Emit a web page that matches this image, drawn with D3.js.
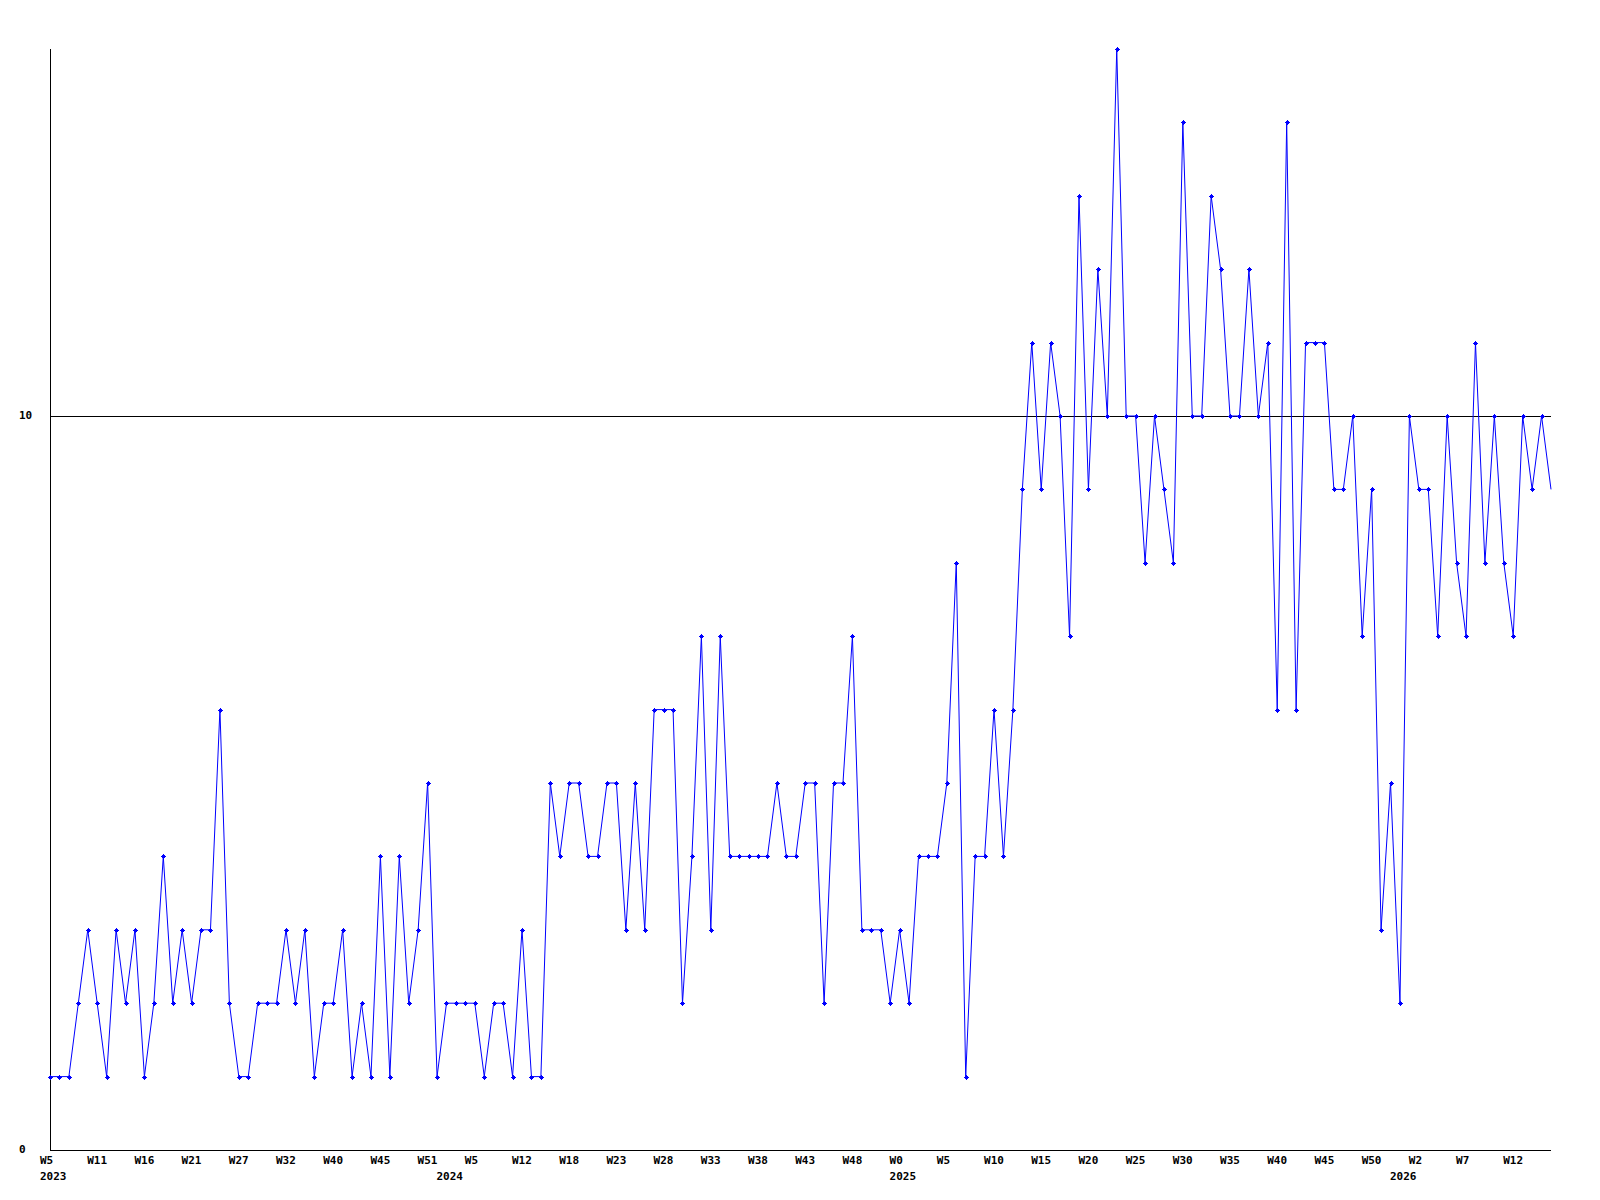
<!DOCTYPE html>
<html>
<head>
<meta charset="utf-8">
<script src="https://cdn.jsdelivr.net/npm/d3@7"></script>
<style>
  html, body { margin: 0; padding: 0; background: #ffffff; }
  svg { display: block; }
  text { font-family: "DejaVu Sans Mono", "Liberation Mono", monospace; font-size: 11px; font-weight: bold; fill: #000; }
</style>
</head>
<body>
<svg id="chart" width="1600" height="1200"></svg>
<script>
// Weekly values (one per week)
const values = [
  1,1,1,2,3,2,1,3,2,3,1,2,4,2,3,2,3,3,6,2,1,1,
  2,2,2,3,2,3,1,2,2,3,1,2,1,4,1,4,2,3,5,1,2,
  2,2,2,1,2,2,1,3,1,1,5,4,5,5,4,4,5,5,3,5,3,
  6,6,6,2,4,7,3,7,4,4,4,4,4,5,4,4,5,5,2,5,5,
  7,3,3,3,2,3,2,4,4,4,5,8,1,4,4,6,4,6,9,11,
  9,11,10,7,13,9,12,10,15,10,10,8,10,9,8,14,10,10,13,12,10,
  10,12,10,11,6,14,6,11,11,11,9,9,10,7,9,3,5,2,10,9,9,
  7,10,8,7,11,8,10,8,7,10,9,10,9
];
// Week tick labels, one every 5 points
const weekLabels = ["W5","W11","W16","W21","W27","W32","W40","W45","W51","W5","W12","W18","W23","W28","W33","W38","W43","W48","W0","W5","W10","W15","W20","W25","W30","W35","W40","W45","W50","W2","W7","W12"];
const weekLabelStep = 5;
// Year labels and the point index where each appears
const yearLabels = ["2023","2024","2025","2026"];
const yearIndex = [0, 42, 90, 143];
// Y tick values
const yTicks = [0, 10];
const yMax = 15;

(function () {
const svg = d3.select("#chart");
const mLeft = 50, mRight = 1551, mTop = 49, mBottom = 1150;

const x = d3.scaleLinear().domain([0, values.length - 1]).range([mLeft, mRight]);
const y = d3.scaleLinear().domain([0, yMax]).range([mBottom, mTop]);

// Axes
svg.append("line")
  .attr("x1", mLeft + 0.5).attr("x2", mLeft + 0.5)
  .attr("y1", mTop).attr("y2", mBottom + 0.5)
  .attr("stroke", "#000").attr("stroke-width", 1).attr("shape-rendering", "crispEdges");
svg.append("line")
  .attr("x1", mLeft).attr("x2", mRight)
  .attr("y1", mBottom + 0.5).attr("y2", mBottom + 0.5)
  .attr("stroke", "#000").attr("stroke-width", 1).attr("shape-rendering", "crispEdges");

// Horizontal reference lines at non-zero ticks
svg.selectAll("line.grid").data(yTicks.filter(d => d > 0)).enter().append("line")
  .attr("class", "grid")
  .attr("x1", mLeft).attr("x2", mRight)
  .attr("y1", d => Math.round(y(d)) + 0.5).attr("y2", d => Math.round(y(d)) + 0.5)
  .attr("stroke", "#000").attr("stroke-width", 1).attr("shape-rendering", "crispEdges");

// Y labels
svg.selectAll("text.ylab").data(yTicks).enter().append("text")
  .attr("class", "ylab")
  .attr("x", 19)
  .attr("y", d => y(d))
  .attr("dominant-baseline", "middle")
  .text(d => d);

// Week labels
svg.selectAll("text.wk").data(weekLabels).enter().append("text")
  .attr("class", "wk")
  .attr("x", (d, i) => x(i * weekLabelStep) - 10)
  .attr("y", 1161)
  .attr("dominant-baseline", "middle")
  .text(d => d);

// Year labels
svg.selectAll("text.yr").data(yearLabels).enter().append("text")
  .attr("class", "yr")
  .attr("x", (d, i) => x(yearIndex[i]) - 10)
  .attr("y", 1177)
  .attr("dominant-baseline", "middle")
  .text(d => d);

// Line
const line = d3.line().x((d, i) => x(i)).y(d => y(d));
svg.append("path")
  .datum(values)
  .attr("d", line)
  .attr("fill", "none")
  .attr("stroke", "#0000ff")
  .attr("stroke-width", 1);

// Markers (last point sits on the plot edge and has none)
const marks = svg.append("g").attr("fill", "#0000ff").attr("stroke", "#0000ff");
values.forEach((v, i) => {
  if (i === values.length - 1) return;
  const cx = Math.round(x(i)) + 0.5, cy = Math.round(y(v)) + 0.5;
  marks.append("path")
    .attr("d", `M${cx - 2.5},${cy}L${cx + 2.5},${cy}M${cx},${cy - 2.5}L${cx},${cy + 2.5}`)
    .attr("stroke-width", 1).attr("fill", "none");
  marks.append("rect")
    .attr("x", cx - 1.5).attr("y", cy - 1.5).attr("width", 3).attr("height", 3)
    .attr("stroke", "none");
});
})();
</script>
</body>
</html>
